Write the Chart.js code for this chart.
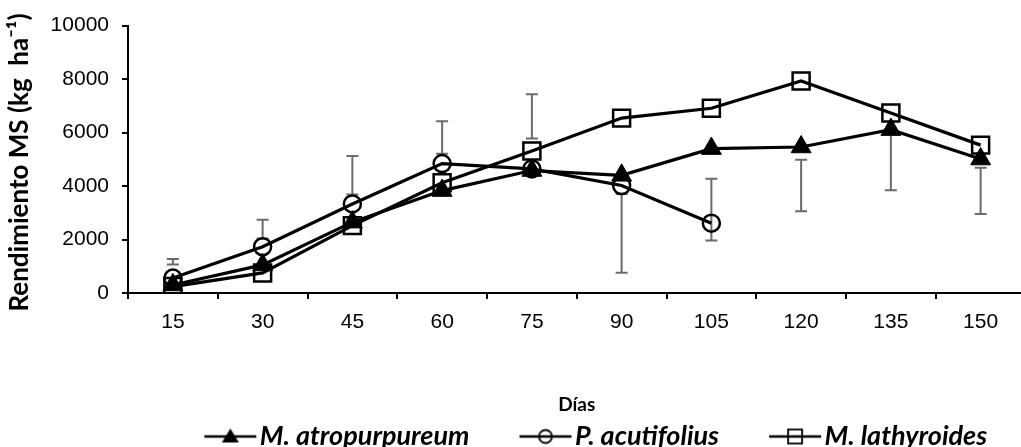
<!DOCTYPE html>
<html>
<head>
<meta charset="utf-8">
<script src="https://cdn.jsdelivr.net/npm/chart.js@4.4.1/dist/chart.umd.min.js"></script>
<style>
  html, body { margin: 0; padding: 0; background: #fff; overflow: hidden; }
  #wrap { width: 1021px; height: 447px; overflow: hidden; }
</style>
</head>
<body>
<div id="wrap"><canvas id="rendimientoChart" width="1040" height="447"></canvas></div>
<script>
// Días de corte
const dias = ["15", "30", "45", "60", "75", "90", "105", "120", "135", "150"];

// Rendimiento de materia seca (kg/ha) por especie
const atropurpureum = [300, 1050, 2650, 3830, 4580, 4400, 5400, 5460, 6110, 5010];
const acutifolius = [560, 1730, 3330, 4840, 4640, 4020, 2610, null, null, null];
const lathyroides = [240, 750, 2520, 4120, 5310, 6540, 6910, 7930, 6730, 5530];

// Barras de error (extremos inferior y superior) por día
const errLow = [1070, 2040, 3680, 5210, 5780, 760, 1960, 3060, 3840, 2950];
const errHigh = [1270, 2740, 5120, 6420, 7430, 3700, 4270, 4980, 6110, 4680];

const yTicks = [0, 2000, 4000, 6000, 8000, 10000];

const TICK_FONT = { family: "Liberation Sans", size: 21 };
const SAMPLE_BOX = 80;

// small legend samples: a line with the marker in the middle
function legendSample(style) {
  const c = document.createElement("canvas");
  c.width = SAMPLE_BOX + 24;
  c.height = 28;
  const g = c.getContext("2d");
  const x0 = c.width - 54, x1 = c.width - 2, cx = (x0 + x1) / 2, cy = 14;
  g.strokeStyle = "#000";
  g.lineWidth = 2.5;
  g.beginPath();
  g.moveTo(x0, cy);
  g.lineTo(x1, cy);
  g.stroke();
  g.lineWidth = 1.8;
  if (style === "triangle") {
    g.fillStyle = "#000";
    g.beginPath();
    g.moveTo(cx, cy - 8);
    g.lineTo(cx + 8.5, cy + 6);
    g.lineTo(cx - 8.5, cy + 6);
    g.closePath();
    g.fill();
  } else if (style === "circle") {
    g.beginPath();
    g.arc(cx, cy, 6.5, 0, Math.PI * 2);
    g.stroke();
  } else {
    g.strokeRect(cx - 7, cy - 7, 14, 14);
  }
  return c;
}

const samples = [legendSample("triangle"), legendSample("circle"), legendSample("rect")];

const errorBars = {
  id: "errorBars",
  beforeDatasetsDraw(chart) {
    const { ctx, scales: { x, y } } = chart;
    ctx.save();
    ctx.strokeStyle = "#6b6b6b";
    ctx.lineWidth = 2;
    errLow.forEach((lo, i) => {
      const px = x.getPixelForValue(i);
      const yLo = y.getPixelForValue(lo);
      const yHi = y.getPixelForValue(errHigh[i]);
      ctx.beginPath();
      ctx.moveTo(px, yLo);
      ctx.lineTo(px, yHi);
      ctx.moveTo(px - 6, yLo);
      ctx.lineTo(px + 6, yLo);
      ctx.moveTo(px - 6, yHi);
      ctx.lineTo(px + 6, yHi);
      ctx.stroke();
    });
    ctx.restore();
  }
};

new Chart(document.getElementById("rendimientoChart"), {
  type: "line",
  data: {
    labels: dias,
    datasets: [
      {
        label: "M. atropurpureum",
        data: atropurpureum,
        borderColor: "#000",
        borderWidth: 3.2,
        pointStyle: "triangle",
        pointRadius: 11.5,
        pointBackgroundColor: "#000",
        pointBorderColor: "#000",
        pointBorderWidth: 1
      },
      {
        label: "P. acutifolius",
        data: acutifolius,
        borderColor: "#000",
        borderWidth: 3.2,
        pointStyle: "circle",
        pointRadius: 8.5,
        pointBackgroundColor: "rgba(0,0,0,0)",
        pointBorderColor: "#000",
        pointBorderWidth: 2.5
      },
      {
        label: "M. lathyroides",
        data: lathyroides,
        borderColor: "#000",
        borderWidth: 3.2,
        pointStyle: "rect",
        pointRadius: 12,
        pointBackgroundColor: "rgba(0,0,0,0)",
        pointBorderColor: "#000",
        pointBorderWidth: 2.5
      }
    ]
  },
  options: {
    responsive: false,
    animation: false,
    devicePixelRatio: 1,
    layout: { padding: { top: 23, right: 12, bottom: -13, left: 0 } },
    plugins: {
      tooltip: { enabled: false },
      legend: {
        position: "bottom",
        fullSize: false,
        align: "center",
        labels: {
          usePointStyle: true,
          pointStyleWidth: SAMPLE_BOX,
          padding: 12,
          color: "#000",
          font: { family: "Lato", size: 27, weight: "bold", style: "italic" },
          generateLabels: (chart) => chart.data.datasets.map((ds, i) => ({
            text: ds.label,
            pointStyle: samples[i],
            fillStyle: "#000",
            strokeStyle: "#000",
            lineWidth: 0,
            hidden: false,
            datasetIndex: i,
            fontColor: "#000"
          }))
        }
      }
    },
    scales: {
      x: {
        offset: true,
        grid: { drawOnChartArea: false, drawTicks: true, tickLength: 6, color: "#000", lineWidth: 2, offset: true },
        border: { color: "#000", width: 2 },
        ticks: { color: "#000", font: TICK_FONT, padding: 11, maxRotation: 0 },
        title: {
          display: true,
          text: "Días",
          color: "#000",
          font: { family: "Lato", size: 19, weight: "bold", lineHeight: 1 },
          padding: { top: 0, bottom: -3 }
        },
        afterFit: (s) => { s.height = 118; }
      },
      y: {
        min: 0,
        max: 10000,
        afterBuildTicks: (s) => { s.ticks = yTicks.map(v => ({ value: v })); },
        grid: { drawOnChartArea: false, drawTicks: true, tickLength: 6, color: "#000", lineWidth: 2 },
        border: { color: "#000", width: 2 },
        ticks: { color: "#000", font: TICK_FONT, padding: 13, callback: (v) => String(v) },
        title: {
          display: true,
          text: "Rendimiento MS (kg  ha⁻¹) ",
          color: "#000",
          font: { family: "Lato", size: 26, weight: "bold" },
          padding: { top: 4, bottom: 0 }
        },
        afterFit: (s) => { s.width = 128; }
      }
    }
  },
  plugins: [errorBars]
});
</script>
</body>
</html>
